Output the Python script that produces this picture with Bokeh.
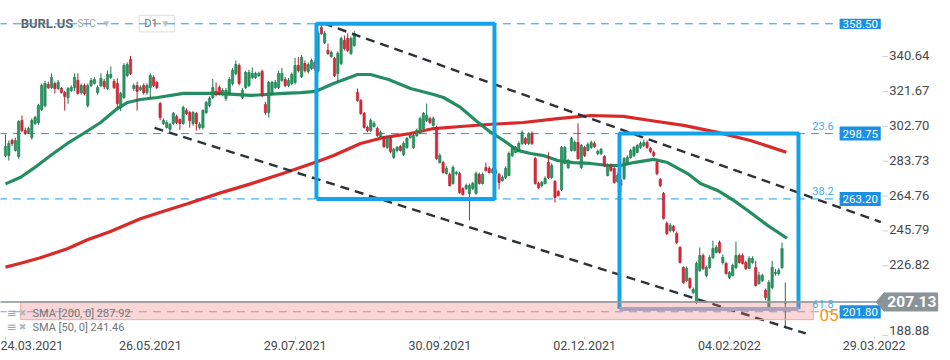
from bokeh.plotting import figure
from bokeh.models import Range1d, FixedTicker, ColumnDataSource
from bokeh.core.properties import value
from bokeh.embed import file_html
from bokeh.resources import INLINE

# ---------------- data ----------------
opens = [286.9, 286.9, 295.0, 289.6, 286.3, 305.9, 300.4, 299.3, 296.6, 304.3,
         304.8, 311.9, 314.0, 325.5, 323.8, 326.0, 323.3, 323.3, 321.1, 318.4,
         322.2, 323.8, 327.7, 321.1, 324.9, 314.0, 324.9, 326.0, 321.1, 324.9,
         327.1, 323.3, 329.3, 327.1, 326.0, 312.9, 318.4, 330.4, 339.1, 323.3,
         324.9, 322.7, 324.9, 321.1, 323.8, 329.3, 326.6, 315.1, 304.3, 302.1,
         301.0, 304.3, 308.1, 306.4, 304.3, 311.3, 310.2, 304.3, 309.7, 302.1,
         302.1, 310.2, 314.0, 318.4, 321.7, 323.8, 320.0, 317.9, 320.6, 326.0,
         331.5, 335.8, 318.4, 323.8, 324.9, 329.3, 329.3, 330.4, 332.6, 314.6,
         310.2, 320.6, 323.8, 323.8, 327.7, 328.2, 324.9, 326.0, 326.6, 335.8,
         329.8, 336.9, 332.6, 334.2, 337.4, 333.1, 356.5, 348.3, 344.0, 340.7,
         339.6, 331.5, 336.9, 349.4, 350.5, 342.4, 346.7, 321.1, 316.8, 309.7,
         302.1, 300.4, 302.6, 301.5, 297.2, 296.6, 291.2, 296.1, 285.8, 289.6,
         291.7, 287.4, 291.2, 296.6, 291.2, 297.7, 299.4, 301.5, 305.9, 306.9,
         303.2, 302.1, 283.0, 283.0, 277.0, 276.5, 271.6, 277.0, 277.0, 268.9,
         268.9, 266.2, 268.9, 266.2, 276.5, 271.6, 280.3, 279.8, 277.6, 277.0,
         276.5, 273.2, 274.9, 276.0, 286.8, 288.5, 289.6, 293.4, 296.1, 293.4,
         298.8, 285.2, 271.6, 270.5, 271.6, 283.0, 274.9, 272.7, 267.2, 268.3,
         282.5, 280.3, 289.6, 289.6, 293.9, 280.3, 291.2, 289.6, 291.2, 293.4,
         287.9, 287.9, 286.3, 276.0, 281.4, 279.8, 272.7, 273.2, 274.3, 282.5,
         285.8, 286.8, 288.5, 291.2, 292.3, 293.9, 290.6, 288.5, 283.0, 273.8,
         266.2, 249.9, 246.0, 248.2, 244.4, 236.8, 225.9, 218.8, 219.9, 212.3,
         206.9, 224.3, 232.4, 221.6, 225.9, 231.3, 234.1, 239.5, 228.6, 228.1,
         220.5, 221.6, 225.9, 232.4, 232.4, 228.6, 225.4, 228.6, 225.9, 217.2,
         218.8, 213.4, 204.1, 215.0, 222.6, 222.6, 225.9, 206.5]
highs = [298.2, 295.0, 296.0, 296.5, 306.0, 308.6, 302.0, 302.5, 307.0, 308.5,
         315.0, 326.0, 327.5, 327.0, 331.5, 327.0, 328.0, 324.0, 322.0, 324.0,
         325.0, 331.5, 331.5, 326.0, 326.0, 326.0, 329.0, 329.5, 325.0, 331.5,
         328.5, 333.1, 335.3, 328.5, 328.8, 321.5, 337.0, 337.5, 341.0, 326.0,
         327.0, 325.0, 326.0, 326.0, 331.5, 330.5, 327.5, 316.0, 307.0, 306.0,
         304.5, 310.5, 309.0, 307.0, 314.0, 312.5, 311.0, 311.0, 310.5, 305.0,
         312.0, 316.5, 319.0, 328.5, 326.6, 325.0, 323.5, 323.5, 329.5, 334.5,
         338.5, 337.0, 323.5, 333.0, 333.5, 334.7, 332.5, 332.5, 333.5, 316.0,
         327.5, 327.5, 328.0, 333.0, 334.5, 329.5, 329.0, 332.0, 340.0, 340.5,
         341.5, 338.5, 337.5, 339.5, 338.5, 354.5, 358.5, 354.5, 347.8, 344.0,
         340.5, 343.5, 351.5, 352.1, 353.2, 351.5, 354.5, 323.3, 317.5, 310.5,
         303.0, 307.0, 305.5, 302.5, 300.5, 297.5, 297.5, 297.0, 291.0, 292.0,
         292.5, 294.5, 297.0, 298.5, 298.5, 301.5, 308.0, 310.5, 315.1, 308.0,
         308.0, 303.0, 288.0, 284.0, 281.0, 277.5, 281.5, 278.5, 278.0, 269.5,
         271.5, 271.5, 272.5, 278.0, 277.5, 277.5, 283.0, 281.0, 280.0, 279.5,
         277.5, 276.0, 281.0, 289.0, 292.0, 292.0, 294.5, 300.5, 297.0, 299.5,
         300.0, 286.0, 272.5, 273.0, 275.5, 288.5, 282.5, 273.5, 268.0, 292.0,
         292.0, 285.0, 297.0, 295.0, 304.3, 293.0, 292.0, 294.0, 295.0, 294.5,
         290.0, 291.0, 287.0, 282.5, 282.5, 280.5, 277.0, 274.0, 286.0, 287.0,
         290.5, 292.0, 293.0, 294.5, 295.5, 295.0, 291.5, 289.5, 284.0, 274.5,
         267.0, 251.0, 250.0, 249.0, 245.5, 237.5, 226.5, 226.5, 220.5, 215.0,
         229.0, 236.8, 233.5, 227.0, 232.5, 240.5, 238.0, 240.5, 233.0, 229.0,
         224.0, 228.0, 240.0, 233.5, 233.5, 229.5, 232.0, 232.0, 229.5, 223.5,
         222.5, 214.5, 219.0, 229.5, 225.0, 225.5, 239.5, 217.7]
lows = [285.9, 284.1, 292.0, 289.0, 285.0, 299.5, 298.0, 298.5, 295.5, 303.5,
        303.5, 311.0, 313.0, 323.0, 323.0, 320.6, 322.5, 320.5, 311.3, 315.0,
        321.5, 322.0, 320.0, 320.0, 319.5, 313.0, 324.0, 325.5, 320.0, 324.0,
        323.0, 322.5, 328.5, 323.0, 312.9, 311.0, 317.5, 329.5, 330.5, 322.0,
        311.3, 322.0, 320.0, 320.0, 317.9, 324.0, 323.0, 306.0, 303.5, 301.5,
        300.0, 303.5, 304.0, 300.9, 303.5, 309.0, 302.0, 303.0, 300.4, 301.0,
        301.0, 309.5, 313.0, 317.5, 319.0, 319.5, 319.0, 316.5, 319.5, 325.0,
        330.5, 325.0, 317.5, 323.0, 324.0, 328.5, 328.5, 329.5, 318.5, 309.0,
        307.5, 319.5, 323.0, 323.0, 327.0, 324.0, 324.0, 325.0, 325.5, 332.0,
        329.0, 332.0, 331.5, 333.5, 333.0, 332.0, 352.5, 347.5, 341.5, 340.0,
        329.5, 326.6, 336.0, 344.0, 343.0, 341.5, 346.0, 316.0, 309.0, 301.5,
        299.5, 299.5, 302.0, 297.0, 296.5, 291.0, 290.5, 288.0, 285.0, 288.5,
        289.0, 286.5, 290.5, 296.0, 290.5, 297.0, 298.5, 301.0, 305.0, 304.0,
        302.5, 284.5, 282.5, 277.0, 276.5, 270.0, 271.0, 276.0, 266.0, 265.0,
        268.0, 251.5, 268.0, 265.5, 271.0, 271.0, 278.0, 277.0, 277.0, 276.5,
        268.3, 272.5, 274.0, 275.5, 286.0, 288.0, 289.0, 292.5, 292.5, 292.5,
        292.5, 271.0, 268.5, 269.5, 271.0, 274.0, 274.0, 261.3, 264.5, 267.5,
        282.0, 279.5, 289.0, 289.0, 284.5, 279.5, 286.0, 289.0, 290.5, 291.0,
        287.0, 287.0, 280.5, 275.5, 278.0, 271.5, 272.0, 266.7, 273.5, 282.0,
        285.0, 286.0, 288.0, 290.5, 291.5, 290.5, 288.0, 286.0, 276.0, 269.5,
        252.0, 243.5, 245.0, 245.0, 238.5, 228.0, 217.0, 218.0, 214.0, 211.5,
        206.0, 223.5, 224.5, 220.5, 225.0, 230.5, 233.5, 233.5, 227.5, 222.0,
        219.5, 221.0, 225.0, 228.0, 227.5, 224.5, 225.0, 228.0, 215.5, 216.5,
        218.0, 208.0, 203.0, 214.0, 221.5, 221.5, 225.0, 192.7]
closes = [291.7, 293.4, 293.4, 295.0, 305.3, 300.4, 298.8, 301.5, 305.9, 307.5,
          314.0, 324.9, 326.0, 323.8, 329.3, 323.3, 326.6, 321.1, 319.0, 323.3,
          323.8, 329.3, 320.6, 324.9, 320.6, 324.9, 327.7, 328.2, 323.8, 328.8,
          324.4, 330.9, 330.9, 323.8, 315.1, 320.6, 335.8, 336.3, 331.5, 324.9,
          321.7, 323.8, 321.1, 324.9, 330.4, 324.9, 323.8, 307.5, 305.9, 304.8,
          303.7, 309.7, 304.8, 304.3, 313.0, 309.7, 305.9, 310.2, 304.3, 303.7,
          311.3, 315.7, 317.9, 323.8, 320.0, 320.6, 322.2, 322.2, 328.2, 333.1,
          336.3, 326.0, 322.2, 332.0, 332.0, 331.5, 331.5, 331.5, 319.5, 310.2,
          326.6, 326.6, 326.6, 331.5, 331.5, 324.9, 327.7, 330.9, 335.8, 333.1,
          340.2, 333.1, 336.3, 338.5, 334.2, 353.2, 353.2, 353.2, 342.4, 342.9,
          330.4, 342.4, 350.5, 345.1, 344.0, 350.5, 353.2, 316.8, 309.7, 302.1,
          300.4, 305.9, 304.3, 297.7, 299.3, 291.7, 296.6, 289.0, 290.1, 291.2,
          289.6, 293.4, 296.1, 297.7, 297.7, 300.4, 306.9, 309.7, 308.6, 304.8,
          306.9, 285.2, 286.8, 277.6, 279.8, 270.5, 280.3, 277.6, 266.7, 265.6,
          270.5, 270.5, 271.6, 277.0, 271.6, 276.5, 278.7, 277.6, 279.2, 278.7,
          272.2, 274.9, 279.8, 287.9, 291.2, 291.2, 293.4, 299.4, 293.4, 298.8,
          293.4, 271.6, 269.4, 272.2, 274.3, 274.9, 281.4, 264.0, 265.1, 291.2,
          291.2, 284.1, 296.1, 293.9, 285.2, 292.3, 286.8, 292.8, 293.9, 291.7,
          289.0, 290.1, 281.4, 281.4, 278.7, 272.2, 276.0, 270.5, 285.2, 285.8,
          289.6, 291.2, 292.3, 293.4, 293.9, 291.2, 289.0, 286.8, 277.0, 270.5,
          252.6, 244.4, 248.8, 246.0, 239.5, 228.6, 217.7, 225.4, 215.0, 213.9,
          228.1, 232.4, 225.4, 225.9, 231.3, 236.2, 236.8, 234.1, 231.3, 222.6,
          223.2, 227.0, 232.4, 228.6, 228.1, 225.4, 230.8, 230.8, 216.1, 221.6,
          221.6, 209.6, 217.7, 225.9, 223.2, 224.3, 236.2, 207.13]

date_ticks = [0, 44, 88, 132, 176, 220, 264]
date_labels = ["24.03.2021", "26.05.2021", "29.07.2021", "30.09.2021",
               "02.12.2021", "04.02.2022", "29.03.2022"]
price_ticks = [188.88, 226.82, 245.79, 264.76, 283.73, 302.70, 321.67, 340.64]

sma50_x = [0, 4.6, 8.5, 13.7, 18.8, 23.7, 28.9, 34.0, 37.1, 41.0, 46.2, 54.1, 64.4,
           74.5, 84.5, 89.7, 94.2, 99.7, 107.0, 110.9, 116.4, 123.1, 130.1, 133.1,
           138.3, 143.5, 147.4, 151.4, 155.6, 159.6, 163.5, 167.8, 172.6, 177.8,
           183.0, 186.9, 190.9, 197.0, 201.2, 207.3, 211.2, 216.4, 221.3, 226.4,
           231.6, 237.5]
sma50_y = [271.4, 275.0, 279.8, 286.8, 293.4, 298.8, 304.8, 312.4, 315.7, 317.3,
           318.4, 320.6, 320.6, 319.5, 320.6, 321.1, 321.7, 326.0, 330.9, 330.9,
           328.2, 323.3, 320.0, 318.4, 313.0, 305.0, 299.5, 295.0, 289.6, 287.9,
           286.8, 284.1, 283.0, 282.5, 281.4, 281.4, 283.0, 284.7, 283.0, 277.0,
           271.6, 267.8, 262.4, 255.8, 248.8, 241.8]
sma200_x = [0, 4.6, 10.6, 18.8, 24.9, 31.9, 41.0, 47.1, 55.3, 65.3, 74.5, 84.5,
            95.1, 99.7, 107.9, 114.9, 123.1, 130.1, 138.3, 146.5, 157.4, 167.8,
            177.8, 187.8, 196.0, 206.1, 216.4, 226.4, 237.3]
sma200_y = [226.1, 228.2, 231.2, 236.1, 241.0, 245.5, 252.4, 256.0, 260.6, 266.5,
            271.4, 277.2, 283.7, 286.8, 293.4, 296.6, 298.8, 301.5, 302.6, 303.7,
            304.8, 306.9, 308.6, 308.1, 305.9, 303.2, 299.4, 295.0, 288.6]

fib_levels = [358.50, 298.75, 263.20, 201.80]
fib_names = ["", "23.6", "38.2", "61.8"]
last_price = 207.13
sma200_last = 287.92
sma50_last = 241.46

box1_x = [94.5, 148.6]
box1_y = [263.2, 358.5]
box2_x = [186.6, 241.0]
box2_y = [203.3, 298.75]
trend_upper_x = [96.7, 266.0]
trend_upper_y = [358.7, 250.6]
trend_lower_x = [45.3, 243.2]
trend_lower_y = [301.9, 190.0]
band_x = [4.6, 245.6]
band_y = [197.5, 207.13]

# ---------------- figure ----------------
FONT = "Roboto"
p = figure(width=950, height=360, output_backend="svg", toolbar_location=None,
           x_range=Range1d(-1.52, 287.2), y_range=Range1d(188.34, 371.18),
           y_axis_location=None, min_border_left=0, min_border_top=0,
           min_border_right=0, min_border_bottom=24)
p.background_fill_color = "white"
p.border_fill_color = "white"
p.outline_line_color = None
p.xgrid.visible = False
p.ygrid.visible = False

p.xaxis.ticker = FixedTicker(ticks=date_ticks)
p.xaxis.major_label_overrides = {t: l for t, l in zip(date_ticks, date_labels)}
p.xaxis.major_label_text_align = "left"
p.xaxis.major_label_text_font = FONT
p.xaxis.major_label_text_font_size = "12.5px"
p.xaxis.major_label_text_color = "#45494d"
p.xaxis.major_label_standoff = 1
p.xaxis.major_tick_out = 3
p.xaxis.major_tick_in = 0
p.xaxis.major_tick_line_color = "#d0d0d0"
p.xaxis.minor_tick_line_color = None
p.xaxis.axis_line_color = None

# price scale on the right (inside the drawing area, next to the price boxes)
AX_TICK0, AX_TICK1, AX_LABEL = 266.5, 268.2, 268.6
p.segment(x0=[AX_TICK0] * len(price_ticks), x1=[AX_TICK1] * len(price_ticks),
          y0=price_ticks, y1=price_ticks, line_color="#cfd2d4", line_width=1)
p.text(x=[AX_LABEL] * len(price_ticks), y=price_ticks,
       text=["%.2f" % t for t in price_ticks],
       y_offset=[-5] + [-1] * (len(price_ticks) - 1),
       text_font=value(FONT), text_font_size="13px", text_color="#45494d",
       text_align="left", text_baseline="middle")

XL, XR = -2, 253.5   # fib lines extent (left edge to price boxes)

# header texts (drawn under the top dashed line)
p.rect(x=[46.0], y=[358.6], width=10.7, height=9.0, fill_color="white",
       line_color="#dcdfe2", line_width=1)
p.text(x=[4.6], y=[358.6], text=["BURL.US"], text_font=value(FONT),
       text_font_size="13px", text_font_style="bold", text_color="#5b6670",
       text_baseline="middle")
p.text(x=[21.9], y=[358.4], text=["STC"], text_font=value(FONT),
       text_font_size="10px", text_color="#9aa5ad", text_baseline="middle")
p.text(x=[29.8, 47.7], y=[358.6, 358.6], text=["▾", "▾"], text_font=value("DejaVu Sans"),
       text_font_size="11px", text_color="#b5bcc2", text_baseline="middle")
p.text(x=[42.2], y=[358.6], text=["D1"], text_font=value(FONT),
       text_font_size="11px", text_color="#6d767d", text_baseline="middle")

# fib dashed lines
for lv in fib_levels[:3]:
    p.line([XL, XR], [lv, lv], line_color="#1f9be6", line_width=1, line_dash="8 6")
p.line([XL, XR], [fib_levels[3], fib_levels[3]], line_color="#8aa6c6",
       line_width=1, line_dash="8 6")

# SMA lines
p.line(sma200_x, sma200_y, line_color="#d81e1e", line_width=3.2, line_alpha=0.95)
p.line(sma50_x, sma50_y, line_color="#19875a", line_width=3.2, line_alpha=0.95)

# candles
n = len(closes)
idx = list(range(n))
up = [c >= o for o, c in zip(opens, closes)]
body_col = ["#2a9a62" if u else "#dc2a3a" for u in up]
edge_col = ["#16764a" if u else "#b31a2a" for u in up]
src = ColumnDataSource(dict(x=idx, o=opens, h=highs, l=lows, c=closes,
                            top=[max(o, c) for o, c in zip(opens, closes)],
                            bot=[min(o, c) for o, c in zip(opens, closes)],
                            fc=body_col, lc=edge_col))
p.segment(x0="x", y0="h", x1="x", y1="l", line_color="lc", line_width=1, source=src)
p.vbar(x="x", width=0.7, top="top", bottom="bot", fill_color="fc", line_color="lc",
       line_width=0.6, source=src)

# trend lines
p.line(trend_upper_x, trend_upper_y, line_color="#2c3238", line_width=2.4, line_dash="9 6")
p.line(trend_lower_x, trend_lower_y, line_color="#2c3238", line_width=2.4, line_dash="9 6")

# boxes
BL = "#12a3ea"
p.multi_line(xs=[[box1_x[0], box1_x[1], box1_x[1], box1_x[0], box1_x[0]]],
             ys=[[box1_y[0], box1_y[0], box1_y[1], box1_y[1], box1_y[0]]],
             line_color=BL, line_width=4)
p.multi_line(xs=[[box2_x[0], box2_x[0], box2_x[1], box2_x[1]]],
             ys=[[box2_y[0], box2_y[1], box2_y[1], box2_y[0]]],
             line_color=BL, line_width=4)
p.line([box2_x[0], box2_x[1]], [box2_y[0], box2_y[0]], line_color="#95b3d8", line_width=4)

# pink band + last price line
p.quad(left=band_x[0], right=band_x[1], bottom=band_y[0], top=band_y[1],
       fill_color="#f06a6a", fill_alpha=0.28, line_color="#f2aaaa", line_width=1)
MK_TIP, MK_L, MK_R = 264.6, 267.0, 283.3
p.line([-2, MK_TIP], [last_price, last_price], line_color="#8a9398", line_width=1.4)

# fib labels
p.text(x=[251.7] * 3, y=[lv + 2.2 for lv in fib_levels[1:]], text=fib_names[1:],
       text_font=value(FONT), text_font_size="11px", text_color="#41abf2",
       text_align="right", text_baseline="bottom")
p.text(x=[253.2], y=[199.8], text=["05"], text_font=value(FONT),
       text_font_size="17px", text_color="#f7941d", text_align="right",
       text_baseline="middle")

# price boxes
halfs = [2.8, 3.8, 3.8, 3.6]
p.quad(left=[253.5] * 4, right=[266.0] * 4,
       bottom=[lv - h for lv, h in zip(fib_levels, halfs)],
       top=[lv + h for lv, h in zip(fib_levels, halfs)],
       fill_color="#1a8fe6", line_color=None)
p.text(x=[259.75] * 4, y=fib_levels, text=["%.2f" % lv for lv in fib_levels],
       text_font=value(FONT), text_font_size="11.5px", text_color="white",
       text_align="center", text_baseline="middle")

# last price marker
p.patch(x=[MK_TIP, MK_L, MK_R, MK_R, MK_L],
        y=[last_price, last_price + 4.9, last_price + 4.9, last_price - 4.9, last_price - 4.9],
        fill_color="#8a9398", line_color="#8a9398")
p.text(x=[(MK_L + MK_R) / 2 + 0.3], y=[last_price], text=["%.2f" % last_price],
       text_font=value(FONT), text_font_size="15.5px", text_font_style="bold",
       text_color="white", text_align="center", text_baseline="middle")

# legend
p.text(x=[0.3, 0.3], y=[200.9, 193.4], text=["≡", "≡"], text_font=value("DejaVu Sans"),
       text_font_size="12px", text_color="#9aa2a8", text_baseline="middle")
p.text(x=[4.0, 4.0], y=[200.9, 193.4], text=["✖", "✖"], text_font=value("DejaVu Sans"),
       text_font_size="9px", text_color="#b0b6bb", text_baseline="middle")
p.text(x=[8.2, 8.2], y=[200.9, 193.4],
       text=["SMA [200, 0] %.2f" % sma200_last, "SMA [50, 0] %.2f" % sma50_last],
       text_font=value(FONT), text_font_size="11px", text_color="#6f777d",
       text_baseline="middle")

open("out.html", "w").write(file_html(p, INLINE))
